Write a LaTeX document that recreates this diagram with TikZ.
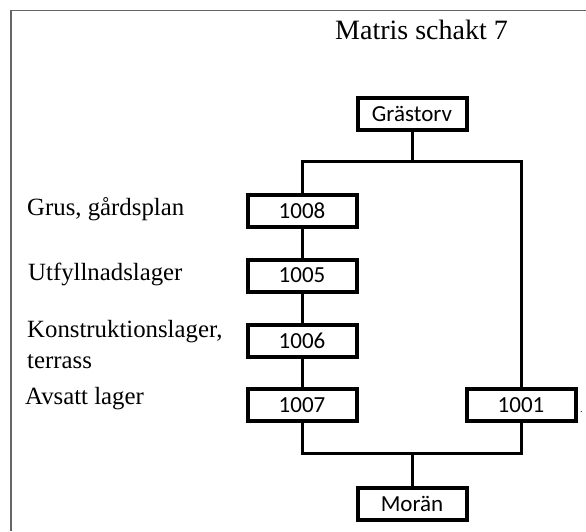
\documentclass[tikz,border=0pt]{standalone}
\usepackage{fontspec}
\setmainfont{Liberation Serif}
\newfontfamily\boxfont{Carlito}
\begin{document}
\begin{tikzpicture}[x=1pt,y=-1pt,
  unit/.style={draw=black,line width=4pt,fill=white,minimum width=109pt,minimum height=32pt,inner sep=0pt,font=\boxfont\fontsize{23}{27}\selectfont},
  lbl/.style={anchor=base west,inner sep=0pt,font=\fontsize{24.8}{30}\selectfont},
  conn/.style={line width=3pt,line cap=rect}]
\useasboundingbox (0,0) rectangle (586,531);
\draw[line width=1.5pt,color=black!60] (586,10.5) -- (11,10.5) -- (11,531);
\node[anchor=base,inner sep=0pt,font=\fontsize{28}{32}\selectfont] (title) at (421.5,39) {Matris schakt 7};
\node[lbl] (l1) at (27,215) {Grus, gårdsplan};
\node[lbl] (l2) at (28,280) {Utfyllnadslager};
\node[lbl] (l3) at (27,337) {Konstruktionslager,};
\node[lbl] (l4) at (27,368) {terrass};
\node[lbl] (l5) at (25,404) {Avsatt lager};
\coordinate (jt) at (412,161);
\coordinate (jb) at (412,453);
\node[unit] (gras) at (412,113.5) {Grästorv};
\node[unit] (b1008) at (302,211) {1008};
\node[unit] (b1005) at (302,275.5) {1005};
\node[unit] (b1006) at (302,341) {1006};
\node[unit] (b1007) at (302,405) {1007};
\node[unit] (b1001) at (521,405) {1001};
\node[unit] (moran) at (412,504) {Morän};
\node[anchor=base west,inner sep=0pt,font=\fontsize{10}{12}\selectfont] (dot) at (580,412) {.};
\draw[conn] (gras) -- (jt);
\draw[conn] (b1008.north) |- (jt) -| (b1001.north);
\draw[conn] (b1008) -- (b1005);
\draw[conn] (b1005) -- (b1006);
\draw[conn] (b1006) -- (b1007);
\draw[conn] (b1007.south) |- (jb) -| (b1001.south);
\draw[conn] (jb) -- (moran);
\end{tikzpicture}
\end{document}
